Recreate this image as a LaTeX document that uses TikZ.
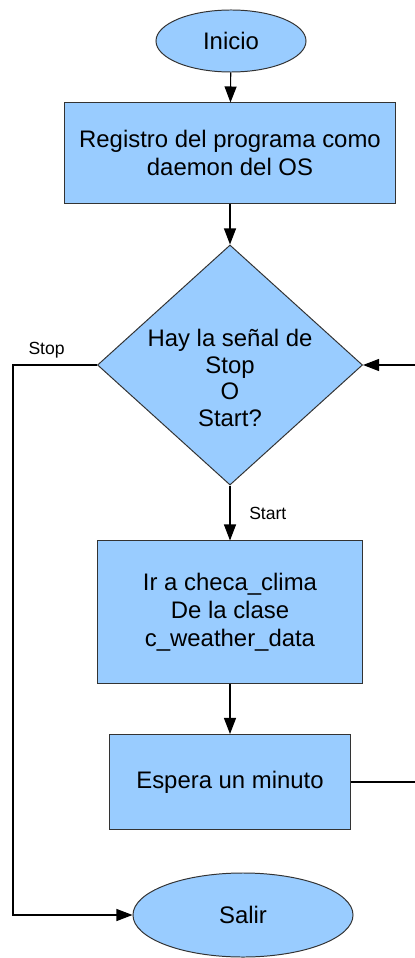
\documentclass[tikz,border=0pt]{standalone}
\usepackage{fontspec}
\setmainfont{Liberation Sans}
\usepackage{xcolor}
\usetikzlibrary{arrows.meta,shapes.geometric,calc}
\definecolor{azulcaja}{HTML}{99CCFF}
\definecolor{borde}{HTML}{333333}

\begin{document}
\begin{tikzpicture}[x=0.025cm, y=-0.025cm,
  caja/.style={draw=borde, fill=azulcaja, line width=0.7pt, align=center, font=\fontsize{17}{19.8}\selectfont},
  ovalo/.style={caja, ellipse, inner sep=0pt},
  rombo/.style={draw=borde, fill=azulcaja, line width=0.7pt, diamond, inner sep=0pt},
  flecha/.style={-{Triangle[length=0.4cm, width=0.3cm]}, line width=0.8pt, black},
  linea/.style={line width=0.8pt, black},
  etiq/.style={font=\fontsize{12.5}{14}\selectfont}]

\useasboundingbox (0,0) rectangle (414,958);

% === INICIO ===
\node[ovalo, minimum width=3.75cm, minimum height=1.55cm] (inicio) at (231,41) {Inicio};

% === REGISTRO ===
\node[caja, minimum width=8.25cm, minimum height=2.5cm] (registro) at (230,153) {Registro del programa como\\daemon del OS};

% === PREGUNTA (rombo) ===
\node[rombo, minimum width=6.625cm, minimum height=6cm] (pregunta) at (230,365) {};
\node[align=center, font=\fontsize{17}{18.8}\selectfont] (textopregunta) at (230,378) {Hay la se\~nal de\\Stop\\O\\Start?};

% === CHECA CLIMA ===
\node[caja, minimum width=6.625cm, minimum height=3.55cm] (checa) at (230,612) {Ir a checa\_clima\\De la clase\\c\_weather\_data};

% === ESPERA ===
\node[caja, minimum width=6cm, minimum height=2.375cm] (espera) at (230,782) {Espera un minuto};

% === SALIR ===
\node[ovalo, minimum width=5.5cm, minimum height=2.1cm] (salir) at (243,915) {Salir};

% puntos de paso
\coordinate (izq) at (13,365);
\coordinate (derabajo) at (416,782);
\coordinate (derarriba) at (416,365);

% === CONECTORES ===
\draw[flecha] (inicio) -- (registro);
\draw[flecha] (registro) -- (pregunta);
\draw[flecha] (pregunta) -- node[etiq, right=0.35cm] {Start} (checa);
\draw[flecha] (checa) -- (espera);
\draw[flecha] (pregunta.west) -- node[etiq, pos=0.6, above=1pt] {Stop} (izq) |- (salir.west);
\draw[linea] (espera.east) -- (derabajo);
\draw[flecha] (derarriba) -- (pregunta.east);

\end{tikzpicture}
\end{document}
